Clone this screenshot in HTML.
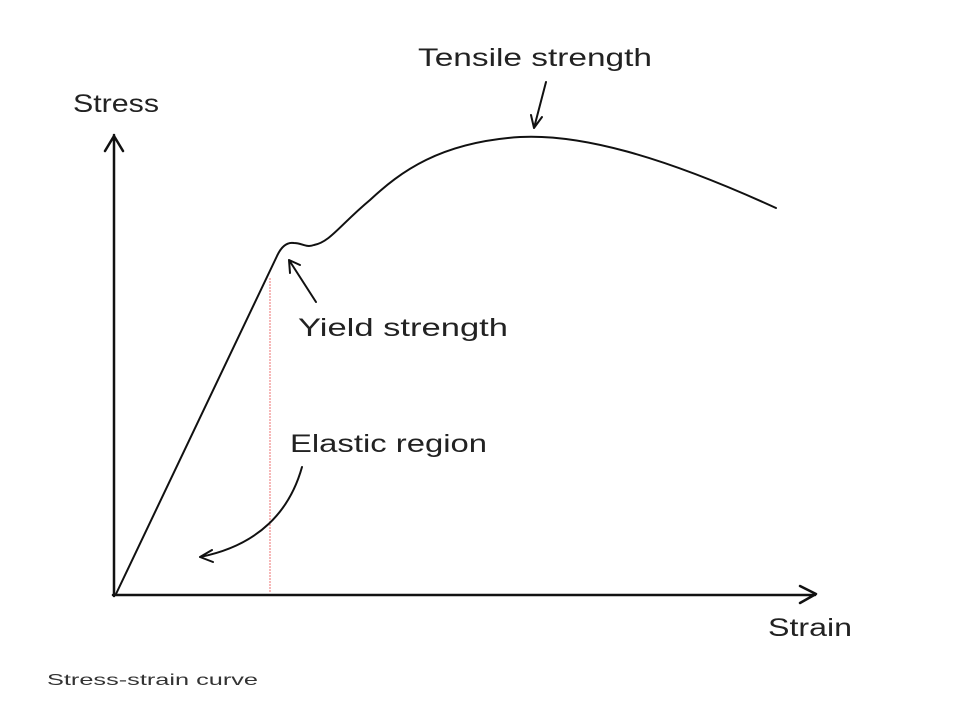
<!DOCTYPE html>
<html><head><style>body{margin:0;background:#fff}</style></head>
<body>
<svg width="959" height="706" viewBox="0 0 959 706" xmlns="http://www.w3.org/2000/svg" font-family="Liberation Sans, sans-serif">
<g fill="#222" font-size="25">
<text x="73" y="112" textLength="86" lengthAdjust="spacingAndGlyphs">Stress</text>
<text x="418" y="66" textLength="234" lengthAdjust="spacingAndGlyphs">Tensile strength</text>
<text x="298" y="336" textLength="210" lengthAdjust="spacingAndGlyphs">Yield strength</text>
<text x="290" y="452" textLength="197" lengthAdjust="spacingAndGlyphs">Elastic region</text>
<text x="768" y="636" textLength="84" lengthAdjust="spacingAndGlyphs">Strain</text>
</g>
<text x="47" y="685" font-size="16" fill="#333" textLength="211" lengthAdjust="spacingAndGlyphs">Stress-strain curve</text>
<line x1="270" y1="278" x2="270" y2="592" stroke="#f4a0a0" stroke-width="1.5" stroke-dasharray="2,1"/>
<g fill="none" stroke="#111" stroke-width="2.5" stroke-linecap="round" stroke-linejoin="round">
<path d="M114 596 V135 M105 151 L114 136 L123 151"/>
<path d="M113 595 H815 M800 586 L816 594 L800 603"/>
</g>
<g fill="none" stroke="#111" stroke-width="2" stroke-linecap="round" stroke-linejoin="round">
<path d="M116 594 L277 256 C282 245 288 242 294 243 C302 243 306 248 314 245 C330 242 340 225 370 200 C400 172 440 142 520 137 C580 134 660 155 776 208"/>
<path d="M316 302 L289 260 M289 260 L290 273 M289 260 L300 265"/>
<path d="M546 82 L534 128 M534 128 L531 115 M534 128 L542 117"/>
<path d="M302 467 C290 510 260 545 200 557 M200 557 L212 550 M200 557 L213 562"/>
</g>
</svg>
</body></html>
